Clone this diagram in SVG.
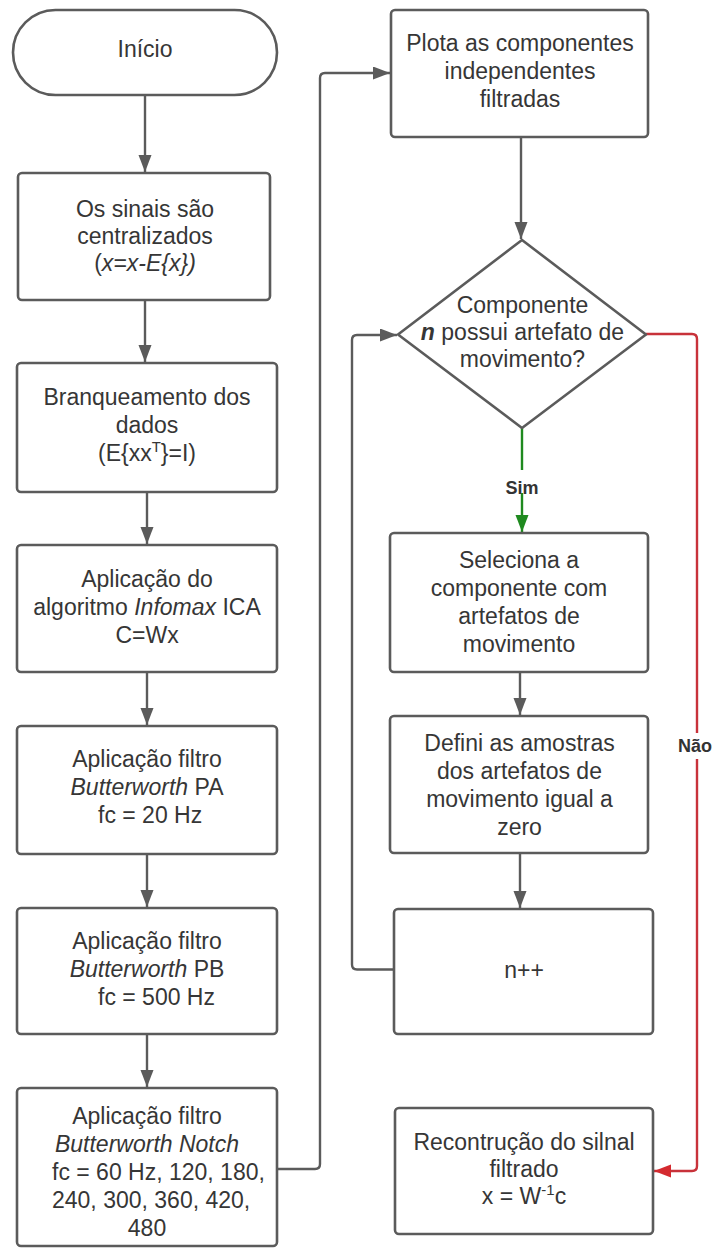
<svg xmlns="http://www.w3.org/2000/svg" width="716" height="1249" viewBox="0 0 716 1249">
  <defs>
    <style>
      .shape { fill: #ffffff; stroke: #5b5b5b; stroke-width: 2.6; }
      .line { fill: none; stroke: #5b5b5b; stroke-width: 2.4; }
      .yes { fill: none; stroke: #1f8a1f; stroke-width: 2.4; }
      .no { fill: none; stroke: #c8323a; stroke-width: 2.4; }
      .t { font-family: "Liberation Sans", Arial, sans-serif; font-size: 23px; fill: #363636; text-anchor: middle; }
      .ts { text-anchor: start; }
      .lbl { font-family: "Liberation Sans", Arial, sans-serif; font-size: 18px; font-weight: bold; fill: #333333; text-anchor: middle; }
      .i { font-style: italic; }
      .sup { font-size: 15px; }
    </style>
    <marker id="arrow" markerUnits="userSpaceOnUse" markerWidth="18" markerHeight="14" refX="17" refY="6.5" orient="auto">
      <path d="M0,0 L17,6.5 L0,13 z" fill="#5b5b5b"/>
    </marker>
    <marker id="arrowGreen" markerUnits="userSpaceOnUse" markerWidth="18" markerHeight="14" refX="17" refY="6.5" orient="auto">
      <path d="M0,0 L17,6.5 L0,13 z" fill="#1f8a1f"/>
    </marker>
    <marker id="arrowRed" markerUnits="userSpaceOnUse" markerWidth="18" markerHeight="14" refX="17" refY="6.5" orient="auto">
      <path d="M0,0 L17,6.5 L0,13 z" fill="#d42a2f"/>
    </marker>
  </defs>

  <rect x="0" y="0" width="716" height="1249" fill="#ffffff"/>

  <!-- connectors -->
  <g id="connectors">
    <path class="line" d="M145,95 V172" marker-end="url(#arrow)"/>
    <path class="line" d="M145,300 V362" marker-end="url(#arrow)"/>
    <path class="line" d="M147,492 V544" marker-end="url(#arrow)"/>
    <path class="line" d="M147,672 V725" marker-end="url(#arrow)"/>
    <path class="line" d="M147,854 V907" marker-end="url(#arrow)"/>
    <path class="line" d="M147,1034 V1087" marker-end="url(#arrow)"/>
    <path class="line" d="M277,1169 H315 Q320,1169 320,1164 V78 Q320,73 325,73 H390" marker-end="url(#arrow)"/>
    <path class="line" d="M521,137 V239" marker-end="url(#arrow)"/>
    <path class="yes" d="M522,428 V532" marker-end="url(#arrowGreen)"/>
    <path class="line" d="M520,672 V715" marker-end="url(#arrow)"/>
    <path class="line" d="M520,853 V908" marker-end="url(#arrow)"/>
    <path class="line" d="M394,969.5 H357 Q352,969.5 352,964.5 V340 Q352,335 357,335 H397" marker-end="url(#arrow)"/>
    <path class="no" d="M646,334 H692 Q697,334 697,339 V1166 Q697,1171 692,1171 H654" marker-end="url(#arrowRed)"/>
    <!-- branch labels -->
    <rect x="498" y="470" width="48" height="23" fill="#ffffff"/>
    <text class="lbl" x="522" y="494">Sim</text>
    <rect x="672" y="733" width="48" height="26" fill="#ffffff"/>
    <text class="lbl" x="695" y="752">Não</text>
  </g>

  <!-- left column -->
  <g id="inicio">
    <rect class="shape" x="13" y="10" width="264" height="85" rx="42.5" ry="42.5"/>
    <text class="t" x="145" y="57">Início</text>
  </g>

  <g id="centralizar">
    <rect class="shape" x="18" y="173" width="252" height="127" rx="4"/>
    <text class="t" x="145" y="216.5">Os sinais são</text>
    <text class="t" x="145" y="243.5">centralizados</text>
    <text class="t" x="145" y="270.5">(<tspan class="i">x=x-E{x})</tspan></text>
  </g>

  <g id="branqueamento">
    <rect class="shape" x="17" y="363" width="260" height="129" rx="4"/>
    <text class="t" x="147" y="405">Branqueamento dos</text>
    <text class="t" x="147" y="433">dados</text>
    <text class="t" x="147" y="461">(E{xx<tspan class="sup" dy="-9">T</tspan><tspan dy="9">}=I)</tspan></text>
  </g>

  <g id="infomax">
    <rect class="shape" x="17" y="545" width="260" height="127" rx="4"/>
    <text class="t" x="147" y="587">Aplicação do</text>
    <text class="t" x="147" y="615">algoritmo <tspan class="i">Infomax</tspan> ICA</text>
    <text class="t" x="147" y="643">C=Wx</text>
  </g>

  <g id="filtro-pa">
    <rect class="shape" x="17" y="726" width="260" height="128" rx="4"/>
    <text class="t" x="147" y="767">Aplicação filtro</text>
    <text class="t" x="147" y="795"><tspan class="i">Butterworth</tspan> PA</text>
    <text class="t ts" x="98" y="823">fc = 20 Hz</text>
  </g>

  <g id="filtro-pb">
    <rect class="shape" x="17" y="908" width="260" height="126" rx="4"/>
    <text class="t" x="147" y="948.5">Aplicação filtro</text>
    <text class="t" x="147" y="976.5"><tspan class="i">Butterworth</tspan> PB</text>
    <text class="t ts" x="98" y="1004.5">fc = 500 Hz</text>
  </g>

  <g id="filtro-notch">
    <rect class="shape" x="17" y="1088" width="260" height="158" rx="4"/>
    <text class="t" x="147" y="1124">Aplicação filtro</text>
    <text class="t i" x="147" y="1152">Butterworth Notch</text>
    <text class="t ts" x="52" y="1180">fc = 60 Hz, 120, 180,</text>
    <text class="t ts" x="52" y="1208">240, 300, 360, 420,</text>
    <text class="t" x="147" y="1235.5">480</text>
  </g>

  <!-- right column -->
  <g id="plota">
    <rect class="shape" x="391" y="10" width="257" height="127" rx="4"/>
    <text class="t" x="520" y="51">Plota as componentes</text>
    <text class="t" x="520" y="79">independentes</text>
    <text class="t" x="520" y="107">filtradas</text>
  </g>

  <g id="decisao">
    <path class="shape" d="M522,240 L646,334.5 L522,428 L398,334.5 Z" stroke-linejoin="round"/>
    <text class="t" x="522.5" y="313">Componente</text>
    <text class="t" x="522.5" y="340"><tspan class="i" font-weight="bold">n</tspan> possui artefato de</text>
    <text class="t" x="522.5" y="367">movimento?</text>
  </g>

  <g id="seleciona">
    <rect class="shape" x="390" y="533" width="258" height="139" rx="4"/>
    <text class="t" x="519" y="568.3">Seleciona a</text>
    <text class="t" x="519" y="596">componente com</text>
    <text class="t" x="519" y="624">artefatos de</text>
    <text class="t" x="519" y="651.7">movimento</text>
  </g>

  <g id="definir">
    <rect class="shape" x="390" y="716" width="258" height="137" rx="4"/>
    <text class="t" x="519.5" y="751">Defini as amostras</text>
    <text class="t" x="519.5" y="779">dos artefatos de</text>
    <text class="t" x="519.5" y="807">movimento igual a</text>
    <text class="t" x="519.5" y="835">zero</text>
  </g>

  <g id="incremento">
    <rect class="shape" x="394" y="909" width="259" height="125" rx="4"/>
    <text class="t" x="524" y="978">n++</text>
  </g>

  <g id="reconstrucao">
    <rect class="shape" x="395" y="1108" width="258" height="126" rx="4"/>
    <text class="t" x="524" y="1150">Recontrução do silnal</text>
    <text class="t" x="524" y="1177">filtrado</text>
    <text class="t" x="524" y="1204">x = W<tspan class="sup" dy="-9">-1</tspan><tspan dy="9">c</tspan></text>
  </g>
</svg>
